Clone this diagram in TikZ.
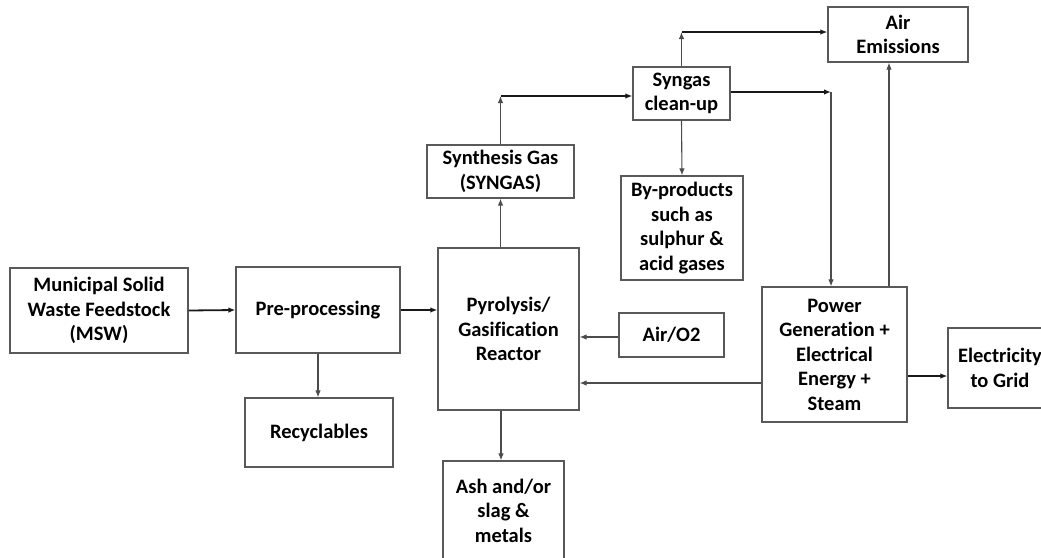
\documentclass[tikz,border=0pt]{standalone}
\usepackage{fontspec}
\setmainfont{Carlito}[Ligatures=NoCommon]
\usetikzlibrary{arrows.meta}
\begin{document}
\begin{tikzpicture}[x=1pt,y=-1pt,
  box/.style={draw=black!65, line width=1.2pt, fill=white, inner sep=0pt, align=center,
    font=\fontsize{20.5}{24.5}\selectfont\bfseries},
  thin/.style={draw=black!70, line width=1.1pt, -{Latex[length=7pt,width=5.5pt]}},
  thick/.style={draw=black!90, line width=1.8pt, -{Latex[length=7pt,width=5.5pt]}},
  plain/.style={draw=black!70, line width=1.1pt}]
\useasboundingbox (0,0) rectangle (1041,557);
\node[box, minimum width=178pt, minimum height=85pt] (msw) at (99,310.5) {Municipal Solid\\Waste Feedstock\\(MSW)};
\node[box, minimum width=164pt, minimum height=86pt] (pre) at (318,310) {Pre-processing};
\node[box, minimum width=148pt, minimum height=69pt] (rec) at (319,432.5) {Recyclables};
\node[box, minimum width=141pt, minimum height=162pt] (pyro) at (508.5,329) {Pyrolysis/\\Gasification\\Reactor};
\node[box, minimum width=147pt, minimum height=53pt] (synth) at (500.5,171.5) {Synthesis Gas\\(SYNGAS)};
\node[box, minimum width=121pt, minimum height=99pt] (ash) at (503.5,510.5) {Ash and/or\\slag \&\\metals};
\node[box, minimum width=97pt, minimum height=53pt] (syngas) at (681.5,93.5) {Syngas\\clean-up};
\node[box, minimum width=122pt, minimum height=104pt] (byp) at (682,228) {By-products\\such as\\sulphur \&\\acid gases};
\node[box, minimum width=105pt, minimum height=44pt] (air) at (671.5,335) {Air/O2};
\node[box, minimum width=140pt, minimum height=55pt] (airem) at (898,34.5) {Air\\Emissions};
\node[box, minimum width=145pt, minimum height=135pt] (power) at (834.5,354.5) {Power\\Generation +\\Electrical\\Energy +\\Steam};
\node[box, minimum width=104pt, minimum height=80pt] (elec) at (1000,368) {Electricity\\to Grid};

\coordinate (c1) at (synth.north |- 0,96);
\coordinate (c2) at (syngas.north |- 0,32);
\coordinate (c3) at (831,92);
\coordinate (p1) at (889,0);
\coordinate (p2) at (0,383);
\coordinate (p3) at (0,376);

\draw[thick] (msw.east) -- (pre.west);
\draw[thick] (pre.east) -- (pyro.west |- pre.east);
\draw[thin] (pre.south) -- (pre.south |- rec.north);
\draw[thin] (pyro.north -| synth) -- (synth.south);
\draw[thin] (pyro.south -| 501,0) -- (ash.north -| 501,0);
\draw[thin] (synth.north) -- (c1);
\draw[thick] (c1) -- (syngas.west |- c1);
\draw[thin] (syngas.north) -- (c2);
\draw[thick] (c2) -- (airem.west |- c2);
\draw[thick] (syngas.east |- c3) -- (c3);
\draw[thin] (c3) -- (c3 |- power.north);
\draw[thin] (syngas.south) -- (byp.north);
\draw[thin] (power.north -| p1) -- (airem.south -| p1);
\draw[thin] (power.west |- p2) -- (pyro.east |- p2);
\draw[thin] (air.west |- 0,337) -- (pyro.east |- 0,337);
\draw[thick] (power.east |- p3) -- (elec.west |- p3);
\end{tikzpicture}
\end{document}
